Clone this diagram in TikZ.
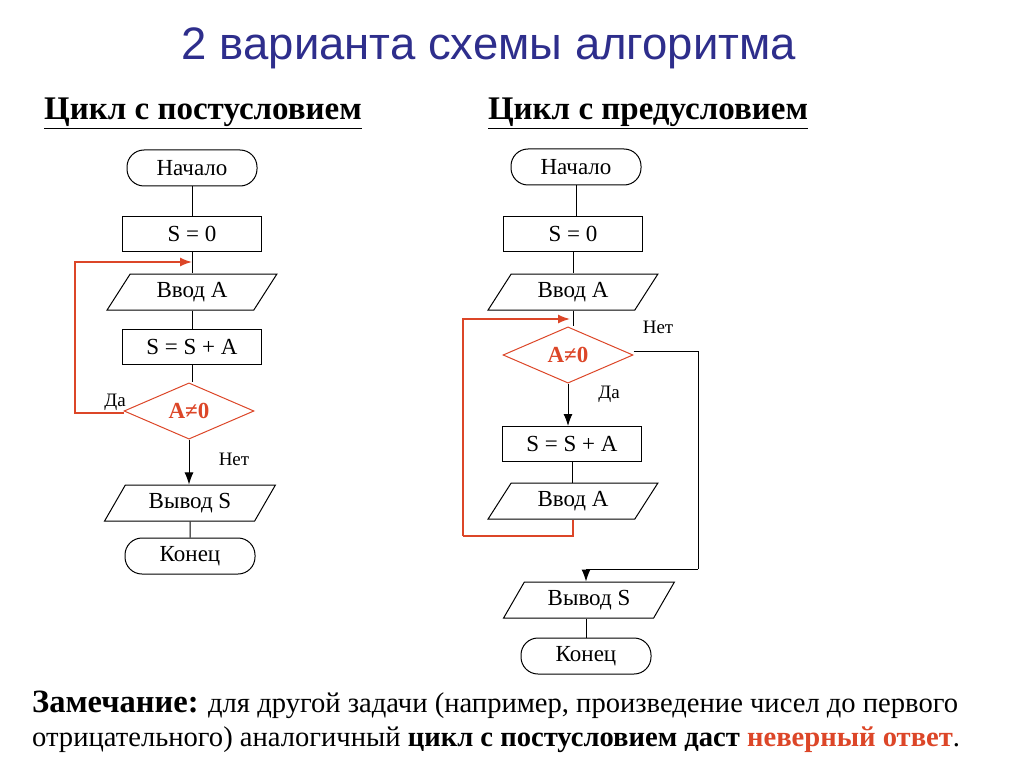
\documentclass[tikz,border=0pt]{standalone}
\usepackage{fontspec}
\setmainfont{Liberation Serif}
\newfontfamily\titlefont{Liberation Sans}
\usetikzlibrary{shapes.geometric,arrows.meta}

\definecolor{loopred}{RGB}{220,70,40}
\definecolor{titleblue}{RGB}{46,46,140}

\tikzset{
  term/.style={draw,line width=1pt,rectangle,rounded corners=17pt,minimum width=130pt,minimum height=36pt,inner sep=0pt,font=\fontsize{23}{26}\selectfont},
  proc/.style={draw,line width=1pt,rectangle,minimum width=139pt,minimum height=35pt,inner sep=0pt,font=\fontsize{23}{26}\selectfont},
  io/.style={draw,line width=1pt,trapezium,trapezium left angle=56,trapezium right angle=124,trapezium stretches=true,minimum width=171pt,minimum height=36pt,inner sep=0pt,font=\fontsize{23}{26}\selectfont},
  cond/.style={draw=loopred,line width=1pt,diamond,minimum width=130pt,minimum height=56pt,inner sep=0pt,text=loopred,font=\fontsize{23}{26}\selectfont\bfseries},
  conn/.style={line width=1pt},
  arr/.style={-{Latex[length=12pt,width=9pt]}},
  back/.style={draw=loopred,line width=1.5pt},
  lbl/.style={font=\fontsize{19}{22}\selectfont},
  head/.style={anchor=base,font=\fontsize{33}{36}\selectfont\bfseries}
}
\newcommand{\headline}[1]{\underline{#1}}

\begin{document}
\begin{tikzpicture}[x=1pt,y=-1pt]
\useasboundingbox (0,0) rectangle (1024,767);

\node[font=\titlefont\fontsize{45.5}{50}\selectfont,text=titleblue] (title) at (489,48) {2 варианта схемы алгоритма};

\node[head] (headpost) at (203,120) {\headline{Цикл с постусловием}};
\node[head] (headpre) at (648,120) {\headline{Цикл с предусловием}};

% posttest loop
\node[term] (start1) at (192,168) {Начало};
\node[proc] (s01) at (192,234) {S = 0};
\coordinate (j1) at (192,262);
\node[io] (in1) at (192,292) {Ввод A};
\node[proc] (add1) at (192,347) {S = S + A};
\node[cond] (if1) at (189,411) {A≠0};
\node[io] (out1) at (190,503) {Вывод S};
\node[term] (end1) at (190,556) {Конец};
\coordinate (c1) at (75,413);

\draw[conn] (start1) -- (s01);
\draw[conn] (s01) -- (in1);
\draw[conn] (in1) -- (add1);
\draw[conn] (add1) -- (add1 |- if1.north);
\draw[conn,arr] (if1.south) -- (if1.south |- out1.north);
\draw[conn] (out1) -- (end1);
\draw[back,arr] (if1.west |- c1) -- (c1) |- (j1);

\node[lbl] (yes1) at (115,402) {Да};
\node[lbl] (no1) at (234,459) {Нет};

% pretest loop
\node[term] (start2) at (576,167) {Начало};
\node[proc] (s02) at (573,234) {S = 0};
\node[io] (in2) at (573,292) {Ввод A};
\coordinate (j2) at (570,319);
\node[cond] (if2) at (568,355) {A≠0};
\node[proc] (add2) at (572,444) {S = S + A};
\node[io] (in3) at (573,501) {Ввод A};
\node[io] (out2) at (589,600) {Вывод S};
\node[term] (end2) at (586,656) {Конец};
\coordinate (c2) at (573,536);
\coordinate (c3) at (463,536);
\coordinate (c4) at (698,351);
\coordinate (c5) at (698,569);

\draw[conn] (start2.south) -- (start2.south |- s02.north);
\draw[conn] (s02) -- (in2);
\draw[conn] (in2.south) -- (in2.south |- if2.north);
\draw[conn,arr] (if2.south) -- (if2.south |- add2.north);
\draw[conn] (add2) -- (add2 |- in3.north);
\draw[back] (in3.south -| c2) -- (c2) -- (c3);
\draw[back,arr] (c3) |- (j2);
\draw[conn] (if2.east |- c4) -- (c4) -- (c5);
\draw[conn,arr] (c5) -| (end2.north |- out2.north);
\draw[conn] (end2.north |- out2.south) -- (end2.north);

\node[lbl] (no2) at (658,327) {Нет};
\node[lbl] (yes2) at (609,394) {Да};

% note
\node[anchor=base west,inner sep=0pt,font=\fontsize{28.6}{32}\selectfont] (note1) at (32,712)
  {{\fontsize{32.5}{34}\selectfont\bfseries Замечание:} для другой задачи (например, произведение чисел до первого};
\node[anchor=base west,inner sep=0pt,font=\fontsize{28.6}{32}\selectfont] (note2) at (32,746)
  {отрицательного) аналогичный \textbf{цикл с постусловием даст} \textcolor{loopred}{\textbf{неверный ответ}}.};
\end{tikzpicture}
\end{document}
